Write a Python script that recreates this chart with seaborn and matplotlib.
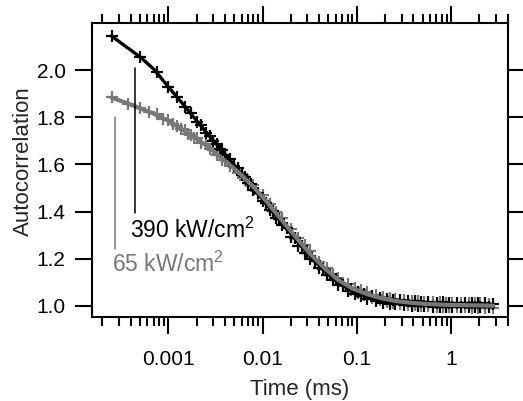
import numpy as np
import matplotlib
matplotlib.use("Agg")
import matplotlib.pyplot as plt
import seaborn as sns
from matplotlib.ticker import FixedLocator, FixedFormatter, LogLocator, NullFormatter

# ---- data ----
# 390 kW/cm2 (black): lag times (ms) and autocorrelation
t_black = [0.00025, 0.0005, 0.00075, 0.001, 0.00125, 0.0015, 0.00175, 0.002,
           0.00225, 0.0025, 0.00275, 0.003, 0.00325, 0.0035, 0.00375, 0.004,
           0.0045, 0.005, 0.0055, 0.006, 0.0065, 0.007, 0.0075, 0.008,
           0.009, 0.010, 0.011, 0.012, 0.013, 0.014, 0.015, 0.016,
           0.018, 0.020, 0.022, 0.024, 0.026, 0.028, 0.030, 0.032,
           0.036, 0.040, 0.044, 0.048, 0.052, 0.056, 0.060, 0.064,
           0.072, 0.080, 0.088, 0.096, 0.104, 0.112, 0.120, 0.128,
           0.144, 0.160, 0.176, 0.192, 0.208, 0.224, 0.240, 0.256,
           0.288, 0.320, 0.352, 0.384, 0.416, 0.448, 0.480, 0.512,
           0.576, 0.640, 0.704, 0.768, 0.832, 0.896, 0.960, 1.024,
           1.152, 1.280, 1.408, 1.536, 1.664, 1.792, 1.920, 2.048,
           2.304, 2.560, 2.816]
g_black = [2.146, 2.054, 1.992, 1.927, 1.885, 1.842, 1.816, 1.781,
           1.765, 1.735, 1.722, 1.697, 1.688, 1.664, 1.659, 1.639,
           1.624, 1.593, 1.583, 1.554, 1.548, 1.521, 1.518, 1.493,
           1.480, 1.445, 1.438, 1.407, 1.401, 1.372, 1.370, 1.343,
           1.330, 1.293, 1.287, 1.254, 1.252, 1.224, 1.226, 1.199,
           1.192, 1.162, 1.158, 1.132, 1.131, 1.109, 1.112, 1.090,
           1.090, 1.063, 1.070, 1.049, 1.060, 1.040, 1.051, 1.031,
           1.041, 1.021, 1.034, 1.013, 1.028, 1.009, 1.026, 1.006,
           1.023, 1.002, 1.020, 1.001, 1.019, 0.998, 1.016, 0.999,
           1.016, 0.996, 1.014, 0.997, 1.015, 0.995, 1.013, 0.996,
           1.013, 0.994, 1.012, 0.995, 1.012, 0.994, 1.011, 0.995,
           1.011, 0.994, 1.010]

# 65 kW/cm2 (gray)
t_gray = [0.00025, 0.000375, 0.0005, 0.000625, 0.00075, 0.000875, 0.001, 0.001125,
          0.00125, 0.001375, 0.0015, 0.001625, 0.00175, 0.001875, 0.002,
          0.00225, 0.0025, 0.00275, 0.003, 0.00325, 0.0035, 0.00375, 0.004,
          0.0045, 0.005, 0.0055, 0.006, 0.0065, 0.007, 0.0075, 0.008,
          0.009, 0.010, 0.011, 0.012, 0.013, 0.014, 0.015, 0.016,
          0.018, 0.020, 0.022, 0.024, 0.026, 0.028, 0.030, 0.032,
          0.036, 0.040, 0.044, 0.048, 0.052, 0.056, 0.060, 0.064,
          0.072, 0.080, 0.088, 0.096, 0.104, 0.112, 0.120, 0.128,
          0.144, 0.160, 0.176, 0.192, 0.208, 0.224, 0.240, 0.256,
          0.288, 0.320, 0.352, 0.384, 0.416, 0.448, 0.480, 0.512,
          0.576, 0.640, 0.704, 0.768, 0.832, 0.896, 0.960, 1.024,
          1.152, 1.280, 1.408, 1.536, 1.664, 1.792, 1.920, 2.048,
          2.304, 2.560, 2.816]
g_gray = [1.884, 1.855, 1.840, 1.821, 1.812, 1.794, 1.788, 1.770,
          1.764, 1.748, 1.744, 1.728, 1.726, 1.711, 1.711,
          1.690, 1.685, 1.664, 1.661, 1.640, 1.639, 1.620, 1.620,
          1.592, 1.588, 1.562, 1.560, 1.535, 1.535, 1.510, 1.512,
          1.476, 1.469, 1.436, 1.432, 1.401, 1.400, 1.370, 1.372,
          1.330, 1.326, 1.288, 1.289, 1.253, 1.258, 1.223, 1.232,
          1.191, 1.188, 1.157, 1.160, 1.131, 1.137, 1.109, 1.118,
          1.086, 1.093, 1.067, 1.078, 1.054, 1.067, 1.045, 1.059,
          1.034, 1.047, 1.025, 1.039, 1.018, 1.034, 1.014, 1.030,
          1.009, 1.025, 1.005, 1.022, 1.003, 1.020, 1.001, 1.018,
          0.999, 1.016, 0.997, 1.015, 0.996, 1.014, 0.995, 1.013,
          0.994, 1.012, 0.994, 1.011, 0.993, 1.011, 0.993, 1.011,
          0.992, 1.010, 0.992]

# fitted curves
fit_t = [0.00025, 0.00035, 0.0005, 0.0007, 0.001, 0.0014, 0.002, 0.0028,
         0.004, 0.0056, 0.008, 0.011, 0.016, 0.022, 0.032, 0.045,
         0.064, 0.09, 0.128, 0.18, 0.256, 0.36, 0.512, 0.72,
         1.024, 1.45, 2.048, 2.816]
fit_black = [2.144, 2.101, 2.056, 2.004, 1.929, 1.860, 1.785, 1.715,
             1.645, 1.573, 1.499, 1.432, 1.352, 1.285, 1.210, 1.150,
             1.097, 1.062, 1.039, 1.025, 1.015, 1.011, 1.007, 1.005,
             1.004, 1.003, 1.002, 1.001]
fit_gray = [1.883, 1.862, 1.838, 1.815, 1.785, 1.749, 1.708, 1.667,
            1.615, 1.565, 1.505, 1.443, 1.364, 1.297, 1.221, 1.162,
            1.109, 1.074, 1.050, 1.033, 1.021, 1.014, 1.009, 1.006,
            1.004, 1.003, 1.002, 1.001]

x_ticks = [0.001, 0.01, 0.1, 1]
x_tick_labels = ["0.001", "0.01", "0.1", "1"]
y_ticks = [1.0, 1.2, 1.4, 1.6, 1.8, 2.0]
y_tick_labels = ["1.0", "1.2", "1.4", "1.6", "1.8", "2.0"]

# annotation leader lines and labels
lead_black_x, lead_black_y = [4.43e-4, 4.43e-4], [2.008, 1.394]
lead_gray_x, lead_gray_y = [2.72e-4, 2.72e-4], [1.802, 1.240]
label_black = ("390 kW/cm$^{2}$", 3.93e-4, 1.287)
label_gray = ("65 kW/cm$^{2}$", 2.51e-4, 1.145)

GRAY = "#787878"

# ---- style ----
sns.set_theme(style="ticks")
plt.rcParams["font.family"] = ["Liberation Sans", "DejaVu Sans"]
plt.rcParams["mathtext.fontset"] = "custom"
plt.rcParams["mathtext.rm"] = "Liberation Sans"
plt.rcParams["mathtext.it"] = "Liberation Sans:italic"

fig = plt.figure(figsize=(5.23, 4.01), dpi=100)
ax = fig.add_axes([0.1759, 0.2095, 0.7948, 0.7324])

# data points
sns.scatterplot(x=t_gray, y=g_gray, marker="+", s=85, linewidth=1.6,
                color=GRAY, ax=ax, zorder=2)
sns.scatterplot(x=t_black, y=g_black, marker="+", s=85, linewidth=1.6,
                color="black", ax=ax, zorder=3)
# fits
sns.lineplot(x=fit_t, y=fit_black, color="black", lw=2.4, ax=ax,
             estimator=None, sort=False, zorder=4)
sns.lineplot(x=fit_t, y=fit_gray, color=GRAY, lw=3.0, ax=ax,
             estimator=None, sort=False, zorder=5)

# leader lines + labels
ax.plot(lead_black_x, lead_black_y, color="black", lw=1.1, zorder=6)
ax.plot(lead_gray_x, lead_gray_y, color=GRAY, lw=1.1, zorder=6)
ax.text(label_black[1], label_black[2], label_black[0], color="black",
        fontsize=16.5, ha="left", va="baseline")
ax.text(label_gray[1], label_gray[2], label_gray[0], color=GRAY,
        fontsize=16.5, ha="left", va="baseline")

# axes
ax.set_xscale("log")
ax.set_xlim(1.55e-4, 4.0)
ax.set_ylim(0.953, 2.198)
ax.xaxis.set_major_locator(FixedLocator(x_ticks))
ax.xaxis.set_major_formatter(FixedFormatter(x_tick_labels))
ax.xaxis.set_minor_locator(LogLocator(base=10, subs=np.arange(2, 10), numticks=20))
ax.xaxis.set_minor_formatter(NullFormatter())
ax.yaxis.set_major_locator(FixedLocator(y_ticks))
ax.yaxis.set_major_formatter(FixedFormatter(y_tick_labels))

ax.tick_params(axis="both", which="both", direction="out", top=True, right=True,
               width=1.5, color="black", labelsize=15, labelcolor="black")
ax.tick_params(axis="x", which="major", length=12, pad=12)
ax.tick_params(axis="x", which="minor", length=6.5)
ax.tick_params(axis="y", which="major", length=12, pad=7)
for side in ax.spines.values():
    side.set_linewidth(1.5)
    side.set_color("black")

ax.set_xlabel("Time (ms)", fontsize=16)
ax.set_ylabel("Autocorrelation", fontsize=16)
ax.xaxis.set_label_coords(0.5, -0.212)
ax.yaxis.set_label_coords(-0.14, 0.53)

fig.savefig("out.png", dpi=100, facecolor="white")
